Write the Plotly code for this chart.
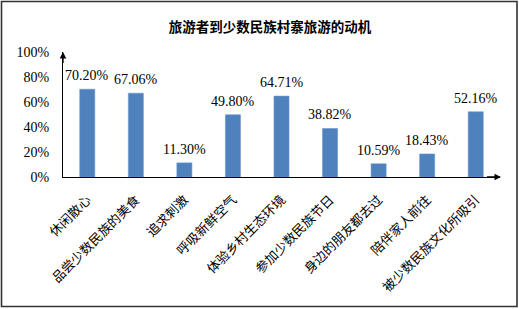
import plotly.graph_objects as go

categories = ["休闲散心", "品尝少数民族的美食", "追求刺激", "呼吸新鲜空气", "体验乡村生态环境",
              "参加少数民族节日", "身边的朋友都去过", "陪伴家人前往", "被少数民族文化所吸引"]
values = [70.20, 67.06, 11.30, 49.80, 64.71, 38.82, 10.59, 18.43, 52.16]
ytick_vals = [0, 0.2, 0.4, 0.6, 0.8, 1.0]
ytick_text = ["0%", "20%", "40%", "60%", "80%", "100%"]
title = "旅游者到少数民族村寨旅游的动机"

fracs = [v / 100 for v in values]
FONT = "Liberation Serif, Noto Sans CJK SC, serif"

fig = go.Figure()
fig.add_trace(go.Bar(
    x=list(range(len(categories))), y=fracs,
    marker=dict(color="#4F81BD", line=dict(color="#6A97CF", width=0.6)),
    width=0.31, hoverinfo="skip",
))

W, H = 519, 309
ml, mr, mt, mb = 63, 19, 52, 132
pw, ph = W - ml - mr, H - mt - mb

annotations = []
for i, (f, v) in enumerate(zip(fracs, values)):
    annotations.append(dict(x=i, y=f, xref="x", yref="y", text=f"{v:.2f}%",
                            showarrow=False, yanchor="bottom", yshift=4,
                            font=dict(family=FONT, size=14, color="black")))
# axis arrows
annotations.append(dict(x=-0.5, y=1.0, xref="x", yref="y", ax=-0.5, ay=0.9,
                        axref="x", ayref="y", showarrow=True, arrowhead=2,
                        arrowsize=1, arrowwidth=1.3, arrowcolor="black", text=""))
annotations.append(dict(x=8.52, y=0, xref="x", yref="y", ax=8.2, ay=0,
                        axref="x", ayref="y", showarrow=True, arrowhead=2,
                        arrowsize=1, arrowwidth=1.3, arrowcolor="black", text=""))

fig.update_layout(
    width=W, height=H,
    margin=dict(l=ml, r=mr, t=mt, b=mb, autoexpand=False),
    paper_bgcolor="white", plot_bgcolor="white",
    showlegend=False,
    title=dict(text=f"<b>{title}</b>", x=(270 - ml) / pw, xref="paper", xanchor="center",
               y=1 - 27 / H, yanchor="middle",
               font=dict(family="Noto Sans CJK SC", size=13.5, color="black")),
    annotations=annotations,
    shapes=[dict(type="rect", xref="paper", yref="paper",
                 x0=(1.5 - ml) / pw, x1=(517 - ml) / pw,
                 y0=(H - mb - 306.5) / ph, y1=(H - mb - 1.5) / ph,
                 line=dict(color="#333333", width=1.6), fillcolor="rgba(0,0,0,0)")],
)
fig.update_xaxes(
    range=[-0.5, 8.5], tickmode="array", tickvals=list(range(len(categories))),
    ticktext=categories, tickangle=-45, showline=True, linecolor="black", linewidth=1.2,
    showgrid=False, zeroline=False, ticks="", automargin=False, ticklabelstandoff=9,
    tickfont=dict(family="Noto Sans CJK SC", size=13, color="black"),
)
fig.update_yaxes(
    range=[0, 1], tickmode="array", tickvals=ytick_vals, ticktext=ytick_text,
    showline=True, linecolor="black", linewidth=1.2, showgrid=False, zeroline=False,
    ticks="", ticklabelstandoff=10, automargin=False,
    tickfont=dict(family="Liberation Serif", size=14, color="black"),
)

fig.write_html("out.html", config={"displayModeBar": False},
               post_script="document.body.style.margin='0';document.body.style.overflow='hidden';")
